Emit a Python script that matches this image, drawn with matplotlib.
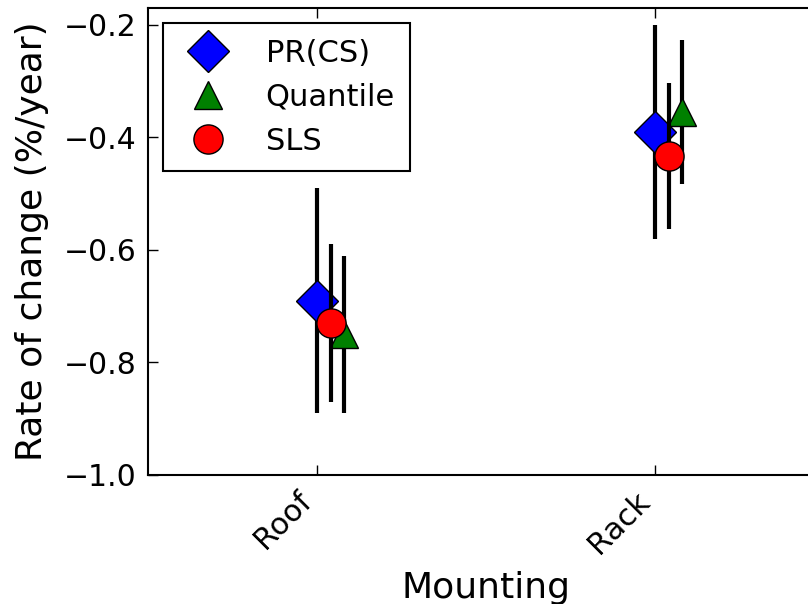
import matplotlib
matplotlib.use('Agg')
import matplotlib.pyplot as plt
import numpy as np

# data
mountings = ['Roof', 'Rack']
methods = ['PR(CS)', 'Quantile', 'SLS']
rates = {
    'PR(CS)':   [-0.69, -0.39],
    'Quantile': [-0.75, -0.355],
    'SLS':      [-0.73, -0.433],
}
errors = {
    'PR(CS)':   [0.20, 0.19],
    'Quantile': [0.14, 0.128],
    'SLS':      [0.14, 0.13],
}
offsets = {'PR(CS)': 0.0, 'Quantile': 0.08, 'SLS': 0.04}
markers = {'PR(CS)': 'D', 'Quantile': '^', 'SLS': 'o'}
colors = {'PR(CS)': 'blue', 'Quantile': 'green', 'SLS': 'red'}
sizes = {'PR(CS)': 21, 'Quantile': 20, 'SLS': 21}
zorders = {'PR(CS)': 3, 'Quantile': 4, 'SLS': 5}

fig = plt.figure(figsize=(8.08, 6.04), dpi=100, facecolor='white')
# right edge of the axes runs past the figure, as in the reference
ax = fig.add_axes([148 / 808, 129 / 604, 676 / 808, 467 / 604])

x = np.arange(len(mountings))
for m in methods:
    xm = x + offsets[m]
    ax.errorbar(xm, rates[m], yerr=errors[m], fmt='none',
                ecolor='black', elinewidth=3, capsize=0, zorder=zorders[m])
    ax.plot(xm, rates[m], linestyle='none', marker=markers[m],
            markerfacecolor=colors[m], markeredgecolor='black',
            markeredgewidth=1, markersize=sizes[m], label=m,
            zorder=zorders[m] + 0.5)

ax.set_xlim(-0.5, 1.5)
ax.set_ylim(-1.0, -0.17)
ax.set_yticks([-1.0, -0.8, -0.6, -0.4, -0.2])
ax.set_xticks(x)
ax.set_xticklabels(mountings, rotation=45, ha='right', fontsize=22)
ax.tick_params(axis='y', labelsize=21.5)
ax.tick_params(direction='in', length=7, width=1, top=True, right=True, pad=8)
for s in ax.spines.values():
    s.set_linewidth(1.5)

ax.set_xlabel('Mounting', fontsize=26, labelpad=9)
ax.set_ylabel('Rate of change (%/year)', fontsize=26, labelpad=11)

leg = ax.legend(loc='upper left', numpoints=1, fontsize=22, fancybox=False,
                edgecolor='black', framealpha=1, borderpad=0.5,
                labelspacing=0.5, handletextpad=0.95, handlelength=1.9)
leg.get_frame().set_linewidth(1.5)

fig.savefig('out.png', dpi=100, facecolor='white')
